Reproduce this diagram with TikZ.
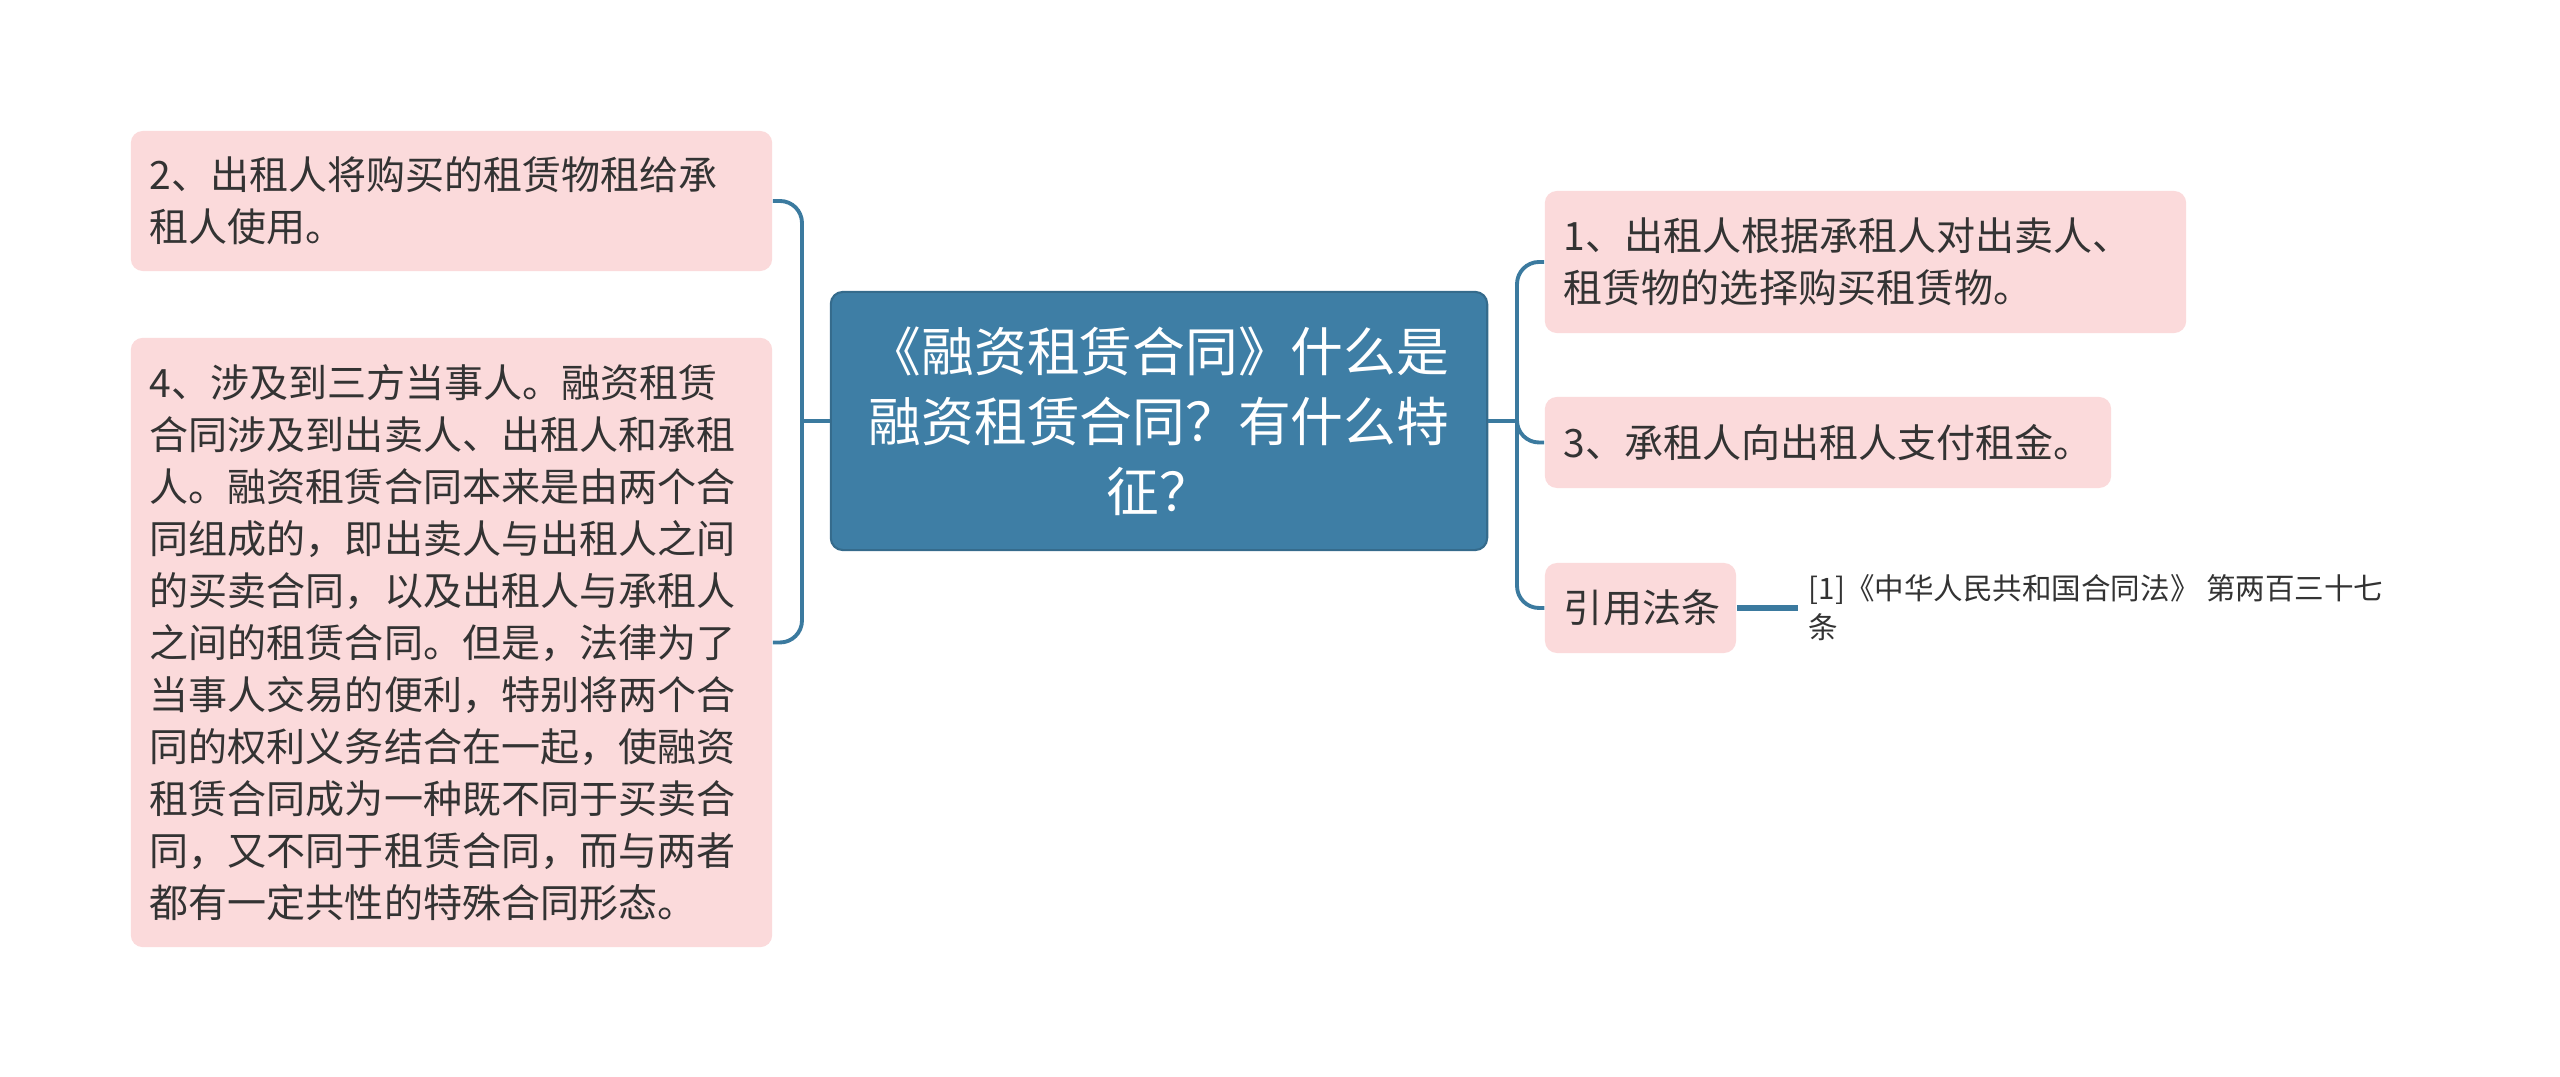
\documentclass[tikz,border=0pt]{standalone}
\usepackage{fontspec}
\setmainfont{Noto Sans CJK SC}
\usetikzlibrary{positioning}
\definecolor{mypink}{HTML}{FBDADB}
\definecolor{myblue}{HTML}{3E7EA5}
\definecolor{myline}{HTML}{3B7A9F}
\definecolor{mytext}{HTML}{333333}
\tikzset{
  leaf/.style={fill=mypink, rounded corners=0.12cm, text=mytext, align=left,
    inner xsep=0.19cm, font=\fontsize{11.1pt}{14.8pt}\selectfont},
  root/.style={fill=myblue, draw=myblue!85!black, line width=0.6pt, rounded corners=0.12cm,
    text=white, align=center, font=\fontsize{15pt}{19.9pt}\selectfont},
  conn/.style={draw=myline, line width=1.1pt, rounded corners=0.22cm}
}
\begin{document}
\begin{tikzpicture}[x=0.01cm, y=-0.01cm]
			\useasboundingbox (0,0) rectangle (2560,1077);
			% The central topic
			\node[root, minimum width=6.56cm, minimum height=2.58cm] (C) at (1159,421) {《融资租赁合同》什么是\\融资租赁合同？有什么特\\征？};
			
			% Left branches
			\node[leaf, minimum width=6.41cm, minimum height=1.40cm, text width=6.03cm] (L1) at (451.5,201) {2、出租人将购买的租赁物租给承\\租人使用。};
			\node[leaf, minimum width=6.41cm, minimum height=6.09cm, text width=6.03cm] (L2) at (451.5,642.5) {4、涉及到三方当事人。融资租赁\\合同涉及到出卖人、出租人和承租\\人。融资租赁合同本来是由两个合\\同组成的，即出卖人与出租人之间\\的买卖合同，以及出租人与承租人\\之间的租赁合同。但是，法律为了\\当事人交易的便利，特别将两个合\\同的权利义务结合在一起，使融资\\租赁合同成为一种既不同于买卖合\\同，又不同于租赁合同，而与两者\\都有一定共性的特殊合同形态。};
			
			% Right branches
			\node[leaf, minimum width=6.41cm, minimum height=1.42cm, text width=6.03cm] (R1) at (1865.5,262) {1、出租人根据承租人对出卖人、\\租赁物的选择购买租赁物。};
			\node[leaf, minimum width=5.66cm, minimum height=0.91cm, text width=5.28cm] (R3) at (1828,442.5) {3、承租人向出租人支付租金。};
			\node[leaf, minimum width=1.91cm, minimum height=0.90cm, text width=1.53cm] (R4) at (1640.5,608) {引用法条};
			\node[text=mytext, align=left, inner sep=0.1cm, anchor=west, font=\fontsize{8.4pt}{11.1pt}\selectfont] (Cite) at (1798,608) {[1]《中华人民共和国合同法》 第两百三十七\\条};
			
			% Connectors
			\coordinate (jl) at (802,421);
			\coordinate (jr) at (1517,421);
			\draw[conn] (C.west) -- (jl);
			\draw[conn] (L1.east) -| (jl) |- (L2.east);
			\draw[conn] (C.east) -- (jr);
			\draw[conn] (R1.west) -| (jr) |- (R4.west);
			\draw[conn] (jr) |- (R3.west);
			\draw[conn, line width=1.6pt] (R4.east) -- (Cite.west);
\end{tikzpicture}
\end{document}
